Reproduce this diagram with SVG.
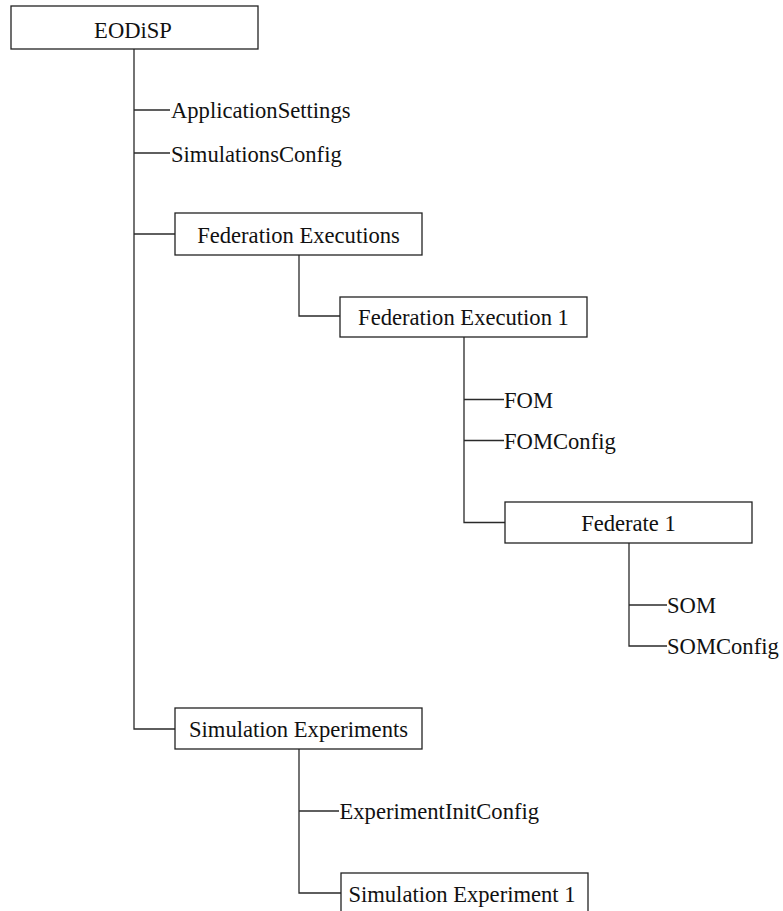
<svg xmlns="http://www.w3.org/2000/svg" width="783" height="911" viewBox="0 0 783 911">
  <style>
    .box { fill: #ffffff; stroke: #222222; stroke-width: 1.3; }
    .wire { fill: none; stroke: #2a2a2a; stroke-width: 1.3; }
    .lbl { font-family: "Liberation Serif", "Times New Roman", serif; font-size: 22.6px; fill: #111111; }
    .mid { text-anchor: middle; }
  </style>
  <rect width="783" height="911" fill="#ffffff"/>

  <!-- tree connectors -->
  <g id="connectors">
    <path class="wire" d="M134 49 V729 H175"/>
    <path class="wire" d="M134 110 H170"/>
    <path class="wire" d="M134 153 H170"/>
    <path class="wire" d="M134 234 H175"/>
    <path class="wire" d="M299 255 V316 H340"/>
    <path class="wire" d="M464 337 V522.5 H505"/>
    <path class="wire" d="M464 399.5 H504"/>
    <path class="wire" d="M464 440.5 H504"/>
    <path class="wire" d="M629 543 V646 H667"/>
    <path class="wire" d="M629 605 H667"/>
    <path class="wire" d="M299 749 V893 H341"/>
    <path class="wire" d="M299 811 H339"/>
  </g>

  <g id="eodisp">
    <rect class="box" x="11" y="6" width="247" height="43"/>
    <text class="lbl mid" x="133" y="37.5">EODiSP</text>
  </g>
  <g id="application-settings">
    <text class="lbl" x="171" y="118">ApplicationSettings</text>
  </g>
  <g id="simulations-config">
    <text class="lbl" x="171" y="161.5">SimulationsConfig</text>
  </g>
  <g id="federation-executions">
    <rect class="box" x="175" y="213" width="247" height="42"/>
    <text class="lbl mid" x="298.5" y="243">Federation Executions</text>
  </g>
  <g id="federation-execution-1">
    <rect class="box" x="340" y="297" width="247" height="40"/>
    <text class="lbl mid" x="463.5" y="325">Federation Execution 1</text>
  </g>
  <g id="fom">
    <text class="lbl" x="504" y="407.5">FOM</text>
  </g>
  <g id="fom-config">
    <text class="lbl" x="504" y="449">FOMConfig</text>
  </g>
  <g id="federate-1">
    <rect class="box" x="505" y="502" width="247" height="41"/>
    <text class="lbl mid" x="628.5" y="531">Federate 1</text>
  </g>
  <g id="som">
    <text class="lbl" x="667" y="612.5">SOM</text>
  </g>
  <g id="som-config">
    <text class="lbl" x="667" y="654">SOMConfig</text>
  </g>
  <g id="simulation-experiments">
    <rect class="box" x="175" y="708" width="247" height="41"/>
    <text class="lbl mid" x="298.5" y="736.5">Simulation Experiments</text>
  </g>
  <g id="experiment-init-config">
    <text class="lbl" x="339.5" y="819">ExperimentInitConfig</text>
  </g>
  <g id="simulation-experiment-1">
    <rect class="box" x="341" y="873" width="247" height="41"/>
    <text class="lbl mid" x="462" y="901.5">Simulation Experiment 1</text>
  </g>
</svg>
